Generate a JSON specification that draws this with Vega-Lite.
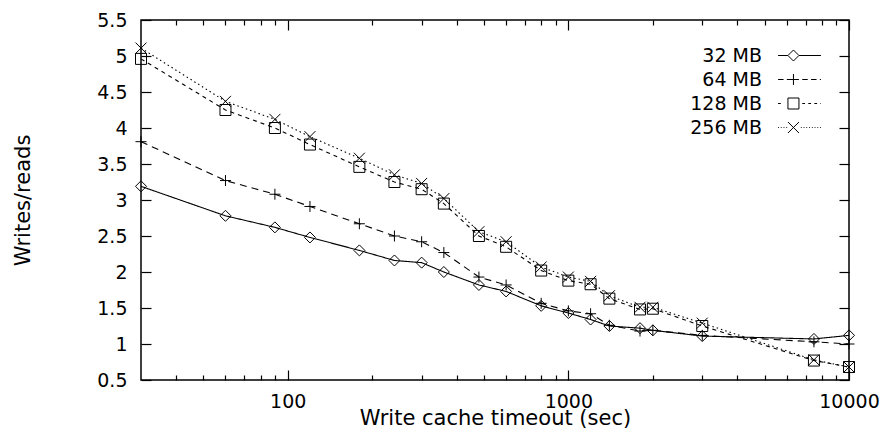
{
  "$schema": "https://vega.github.io/schema/vega-lite/v6.json",
  "width": 708,
  "height": 360,
  "autosize": {"type": "none"},
  "padding": {"left": 141, "top": 20, "right": 38, "bottom": 64},
  "background": "white",
  "config": {
    "view": {"stroke": "black", "strokeWidth": 1.5},
    "axis": {
      "grid": false,
      "domain": false,
      "tickColor": "black",
      "tickWidth": 1.2,
      "labelFont": "DejaVu Sans",
      "labelFontSize": 19,
      "labelColor": "black",
      "labelFlush": false,
      "titleFont": "DejaVu Sans",
      "titleFontSize": 21,
      "titleFontWeight": "normal",
      "titleColor": "black"
    },
    "legend": {
      "labelFont": "DejaVu Sans",
      "labelFontSize": 19,
      "labelColor": "black"
    }
  },
  "data": {
    "values": [
      {"t": 30, "v": 3.19, "s": "32 MB"}, {"t": 60, "v": 2.78, "s": "32 MB"}, {"t": 90, "v": 2.62, "s": "32 MB"}, {"t": 120, "v": 2.48, "s": "32 MB"}, {"t": 180, "v": 2.30, "s": "32 MB"}, {"t": 240, "v": 2.16, "s": "32 MB"}, {"t": 300, "v": 2.13, "s": "32 MB"}, {"t": 360, "v": 2.00, "s": "32 MB"}, {"t": 480, "v": 1.82, "s": "32 MB"}, {"t": 600, "v": 1.73, "s": "32 MB"}, {"t": 800, "v": 1.53, "s": "32 MB"}, {"t": 1000, "v": 1.43, "s": "32 MB"}, {"t": 1200, "v": 1.34, "s": "32 MB"}, {"t": 1400, "v": 1.25, "s": "32 MB"}, {"t": 1800, "v": 1.22, "s": "32 MB"}, {"t": 2000, "v": 1.19, "s": "32 MB"}, {"t": 3000, "v": 1.11, "s": "32 MB"}, {"t": 7500, "v": 1.07, "s": "32 MB"}, {"t": 10000, "v": 1.12, "s": "32 MB"},
      {"t": 30, "v": 3.81, "s": "64 MB"}, {"t": 60, "v": 3.27, "s": "64 MB"}, {"t": 90, "v": 3.08, "s": "64 MB"}, {"t": 120, "v": 2.91, "s": "64 MB"}, {"t": 180, "v": 2.67, "s": "64 MB"}, {"t": 240, "v": 2.50, "s": "64 MB"}, {"t": 300, "v": 2.42, "s": "64 MB"}, {"t": 360, "v": 2.27, "s": "64 MB"}, {"t": 480, "v": 1.93, "s": "64 MB"}, {"t": 600, "v": 1.82, "s": "64 MB"}, {"t": 800, "v": 1.565, "s": "64 MB"}, {"t": 1000, "v": 1.46, "s": "64 MB"}, {"t": 1200, "v": 1.42, "s": "64 MB"}, {"t": 1400, "v": 1.26, "s": "64 MB"}, {"t": 1800, "v": 1.18, "s": "64 MB"}, {"t": 2000, "v": 1.19, "s": "64 MB"}, {"t": 3000, "v": 1.12, "s": "64 MB"}, {"t": 7500, "v": 1.03, "s": "64 MB"}, {"t": 10000, "v": 1.00, "s": "64 MB"},
      {"t": 30, "v": 4.96, "s": "128 MB"}, {"t": 60, "v": 4.25, "s": "128 MB"}, {"t": 90, "v": 4.00, "s": "128 MB"}, {"t": 120, "v": 3.77, "s": "128 MB"}, {"t": 180, "v": 3.46, "s": "128 MB"}, {"t": 240, "v": 3.25, "s": "128 MB"}, {"t": 300, "v": 3.15, "s": "128 MB"}, {"t": 360, "v": 2.95, "s": "128 MB"}, {"t": 480, "v": 2.50, "s": "128 MB"}, {"t": 600, "v": 2.35, "s": "128 MB"}, {"t": 800, "v": 2.02, "s": "128 MB"}, {"t": 1000, "v": 1.88, "s": "128 MB"}, {"t": 1200, "v": 1.83, "s": "128 MB"}, {"t": 1400, "v": 1.63, "s": "128 MB"}, {"t": 1800, "v": 1.48, "s": "128 MB"}, {"t": 2000, "v": 1.49, "s": "128 MB"}, {"t": 3000, "v": 1.25, "s": "128 MB"}, {"t": 7500, "v": 0.77, "s": "128 MB"}, {"t": 10000, "v": 0.68, "s": "128 MB"},
      {"t": 30, "v": 5.11, "s": "256 MB"}, {"t": 60, "v": 4.37, "s": "256 MB"}, {"t": 90, "v": 4.12, "s": "256 MB"}, {"t": 120, "v": 3.88, "s": "256 MB"}, {"t": 180, "v": 3.58, "s": "256 MB"}, {"t": 240, "v": 3.35, "s": "256 MB"}, {"t": 300, "v": 3.23, "s": "256 MB"}, {"t": 360, "v": 3.02, "s": "256 MB"}, {"t": 480, "v": 2.56, "s": "256 MB"}, {"t": 600, "v": 2.42, "s": "256 MB"}, {"t": 800, "v": 2.07, "s": "256 MB"}, {"t": 1000, "v": 1.93, "s": "256 MB"}, {"t": 1200, "v": 1.87, "s": "256 MB"}, {"t": 1400, "v": 1.67, "s": "256 MB"}, {"t": 1800, "v": 1.51, "s": "256 MB"}, {"t": 2000, "v": 1.51, "s": "256 MB"}, {"t": 3000, "v": 1.29, "s": "256 MB"}, {"t": 7500, "v": 0.78, "s": "256 MB"}, {"t": 10000, "v": 0.68, "s": "256 MB"}
    ]
  },
  "resolve": {"axis": {"x": "independent", "y": "independent"}, "scale": {"shape": "independent"}},
  "layer": [
    {
      "mark": {"type": "line", "color": "black", "strokeWidth": 1.1},
      "encoding": {
        "x": {
          "field": "t", "type": "quantitative",
          "scale": {"type": "log", "domain": [30, 10000], "nice": false},
          "axis": {"orient": "bottom", "values": [100, 1000, 10000], "format": "d", "tickSize": -10, "labelPadding": 22, "title": "Write cache timeout (sec)", "titlePadding": -4}
        },
        "y": {
          "field": "v", "type": "quantitative",
          "scale": {"domain": [0.5, 5.5], "nice": false, "zero": false},
          "axis": {"orient": "left", "values": [0.5, 1, 1.5, 2, 2.5, 3, 3.5, 4, 4.5, 5, 5.5], "format": "~g", "tickSize": -10, "labelPadding": 24, "title": "Writes/reads", "titlePadding": 63}
        },
        "strokeDash": {
          "field": "s", "type": "nominal",
          "scale": {"domain": ["256 MB", "128 MB", "64 MB", "32 MB"], "range": [[1.5, 3], [4, 4], [7, 5], [1, 0]]},
          "legend": null
        }
      }
    },
    {
      "mark": {"type": "point", "color": "black", "filled": false, "strokeWidth": 1, "size": 121, "opacity": 1},
      "encoding": {
        "x": {
          "field": "t", "type": "quantitative",
          "axis": {"orient": "bottom", "values": [40, 50, 60, 70, 80, 90, 200, 300, 400, 500, 600, 700, 800, 900, 2000, 3000, 4000, 5000, 6000, 7000, 8000, 9000], "tickSize": -5, "labels": false, "title": null}
        },
        "y": {
          "field": "v", "type": "quantitative",
          "axis": {"orient": "right", "values": [0.5, 1, 1.5, 2, 2.5, 3, 3.5, 4, 4.5, 5, 5.5], "tickSize": -10, "labels": false, "title": null}
        },
        "shape": {
          "field": "s", "type": "nominal",
          "scale": {
            "domain": ["256 MB", "128 MB", "64 MB", "32 MB"],
            "range": ["M-1,-1L1,1M-1,1L1,-1", "M-1,-1H1V1H-1Z", "M-1,0H1M0,-1V1", "M-1,0L0,-1L1,0L0,1Z"]
          },
          "legend": null
        }
      }
    },
    {
      "mark": {"type": "point", "color": "black", "filled": false, "strokeWidth": 1, "size": 121, "opacity": 0},
      "encoding": {
        "x": {
          "field": "t", "type": "quantitative",
          "axis": {"orient": "top", "values": [100, 1000, 10000], "tickSize": -10, "labels": false, "title": null}
        },
        "y": {"field": "v", "type": "quantitative", "axis": null},
        "shape": {
          "field": "s", "type": "nominal",
          "scale": {
            "domain": ["32 MB", "64 MB", "128 MB", "256 MB"],
            "range": [
              "M-3.9,0H-2.1M-0.1,0H3.9M-2.1,0L-1.1,-1L-0.1,0L-1.1,1Z",
              "M-3.9,0H-2.9M-2.3,0H-0.1M-1.1,-1V1M0.5,0H1.5M2.1,0H3.1M3.7,0H3.9",
              "M-3.9,0H-3.4M-2.1,-1H-0.1V1H-2.1ZM0.5,0H1M1.6,0H2.1M2.7,0H3.2M3.8,0H3.9",
              "M-3.9,0H-3.75M-3.4,0H-3.25M-2.9,0H-2.75M-2.4,0H-2.25M-2.1,-1L-0.1,1M-2.1,1L-0.1,-1M0.25,0H0.4M0.75,0H0.9M1.25,0H1.4M1.75,0H1.9M2.25,0H2.4M2.75,0H2.9M3.25,0H3.4M3.75,0H3.9"
            ]
          },
          "legend": {
            "title": null,
            "orient": "top-right",
            "offset": 26,
            "padding": 0,
            "rowPadding": 4,
            "labelAlign": "right",
            "labelOffset": -47,
            "symbolOffset": 0,
            "symbolSize": 121,
            "symbolOpacity": 1,
            "symbolStrokeColor": "black",
            "symbolStrokeWidth": 1,
            "symbolFillColor": "transparent"
          }
        }
      }
    },
    {
      "mark": {"type": "point", "opacity": 0},
      "encoding": {
        "x": {
          "field": "t", "type": "quantitative",
          "axis": {"orient": "top", "values": [40, 50, 60, 70, 80, 90, 200, 300, 400, 500, 600, 700, 800, 900, 2000, 3000, 4000, 5000, 6000, 7000, 8000, 9000], "tickSize": -5, "labels": false, "title": null}
        },
        "y": {"field": "v", "type": "quantitative", "axis": null}
      }
    }
  ]
}
